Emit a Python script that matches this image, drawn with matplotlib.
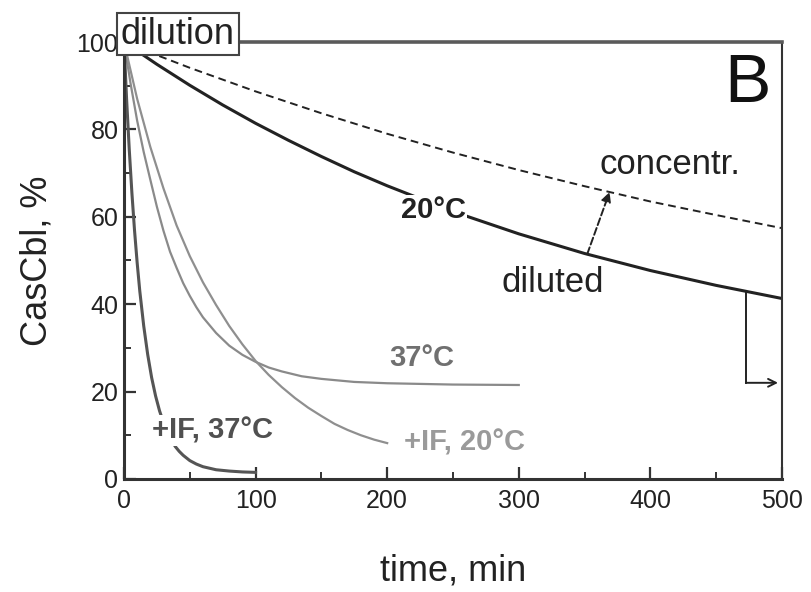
import numpy as np
import matplotlib
matplotlib.use("Agg")
import matplotlib.pyplot as plt

plt.rcParams['font.family'] = ['Liberation Sans', 'DejaVu Sans']

# CasCbl decay curves (time in min, % remaining)
t_diluted = [0, 25, 50, 75, 100, 125, 150, 175, 200, 250, 300, 350, 400, 450, 500]
y_diluted = [100, 94.9, 90.1, 85.6, 81.4, 77.5, 73.8, 70.3, 67.1, 61.2, 56.1, 51.6, 47.7, 44.3, 41.3]

t_concentr = [0, 25, 50, 100, 150, 200, 250, 300, 350, 400, 450, 500]
y_concentr = [100, 97.0, 94.1, 88.7, 83.7, 79.0, 74.7, 70.7, 67.0, 63.5, 60.4, 57.4]

t_37 = [0, 5, 10, 15, 20, 25, 30, 35, 40, 45, 50, 55, 60, 70, 80, 90, 100,
        110, 120, 135, 150, 175, 200, 250, 300]
y_37 = [100, 90.5, 82.0, 74.8, 68.5, 62.3, 56.8, 52.0, 48.3, 44.8, 41.9, 39.3, 37.0,
        33.4, 30.5, 28.4, 26.8, 25.5, 24.6, 23.5, 22.9, 22.2, 21.9, 21.6, 21.5]

t_if20 = [0, 10, 20, 30, 40, 50, 60, 70, 80, 90, 100, 110, 120, 130, 140, 150,
          160, 170, 180, 190, 200]
y_if20 = [100, 87.0, 76.0, 66.5, 58.0, 51.0, 45.0, 39.8, 35.0, 30.8, 27.0, 23.8,
          21.0, 18.5, 16.3, 14.4, 12.6, 11.2, 10.0, 9.0, 8.2]

t_if37 = [0, 2, 4, 6, 8, 10, 12, 15, 18, 21, 24, 27, 30, 33, 36, 39, 42, 45, 50,
          55, 60, 70, 80, 90, 100]
y_if37 = [100, 86.8, 75.4, 65.5, 56.9, 49.5, 43.0, 35.0, 28.5, 23.2, 19.0, 15.6,
          12.9, 10.7, 8.9, 7.4, 6.3, 5.4, 4.2, 3.4, 2.8, 2.1, 1.8, 1.6, 1.5]

plateau = 20          # level the diluted sample tends to
t_shift = 352         # where the dilution arrow starts
t_bracket = 472.6     # where the plateau bracket starts

fig = plt.figure(figsize=(8.12, 5.92), dpi=100)
ax = fig.add_axes([0.1527, 0.191, 0.8103, 0.738])

ax.plot(t_concentr, y_concentr, color='#222222', lw=1.4, ls=(0, (4, 2.5)))
ax.plot(t_diluted, y_diluted, color='#222222', lw=2.2)
ax.plot(t_37, y_37, color='#8a8a8a', lw=1.6)
ax.plot(t_if20, y_if20, color='#8f8f8f', lw=1.6)
ax.plot(t_if37, y_if37, color='#555555', lw=2.2)

ax.set_xlim(0, 500)
ax.set_ylim(0, 100)
ax.set_xticks(np.arange(0, 501, 100))
ax.set_xticks(np.arange(0, 501, 50), minor=True)
ax.set_yticks(np.arange(0, 101, 20))
ax.set_yticks(np.arange(0, 101, 10), minor=True)
ax.tick_params(which='major', direction='in', length=8.5, width=1.6, color='#333333',
               labelsize=18, labelcolor='#222222', pad=7)
ax.tick_params(which='minor', direction='in', length=5, width=1.4, color='#333333')
ax.tick_params(axis='y', pad=4)

for side in ['left', 'bottom']:
    ax.spines[side].set_linewidth(2.2)
    ax.spines[side].set_color('#333333')
ax.spines['right'].set_linewidth(1.5)
ax.spines['right'].set_color('#333333')
ax.spines['top'].set_linewidth(2.6)
ax.spines['top'].set_color('#5a5a5a')

ax.set_xlabel('time, min', fontsize=26, color='#222222')
ax.xaxis.set_label_coords(0.5, -0.17)
ax.set_ylabel('CasCbl, %', fontsize=26, color='#222222')
ax.yaxis.set_label_coords(-0.105, 0.5)

# curve labels
white = dict(facecolor='white', edgecolor='none', pad=1.0)
ax.text(67.6, 11, '+IF, 37°C', fontsize=21, fontweight='bold', color='#505050',
        ha='center', va='center', bbox=white)
ax.text(226, 27.7, '37°C', fontsize=21, fontweight='bold', color='#707070',
        ha='center', va='center')
ax.text(259, 8.3, '+IF, 20°C', fontsize=21, fontweight='bold', color='#9a9a9a',
        ha='center', va='center')
ax.text(235, 61.5, '20°C', fontsize=21, fontweight='bold', color='#222222',
        ha='center', va='center', bbox=white)
ax.text(326, 45, 'diluted', fontsize=25, color='#222222', ha='center', va='center')
ax.text(415, 72, 'concentr.', fontsize=25, color='#222222', ha='center', va='center')
ax.text(474, 90.5, 'B', fontsize=50, color='#111111', ha='center', va='center')
ax.text(41, 101.8, 'dilution', fontsize=26, color='#222222', ha='center', va='center',
        clip_on=False, zorder=5,
        bbox=dict(facecolor='white', edgecolor='#444444', lw=1.5, pad=2.5))

# dilution shift arrow from diluted to concentrated curve
y_from = np.interp(t_shift, t_diluted, y_diluted)
y_to = np.interp(t_shift + 17, t_concentr, y_concentr)
ax.annotate('', xy=(t_shift + 17, y_to), xytext=(t_shift, y_from),
            arrowprops=dict(arrowstyle='-|>', color='#222222', lw=1.4, ls='--',
                            mutation_scale=14, shrinkA=0, shrinkB=0))

# bracket pointing to the plateau level
y_b = np.interp(t_bracket, t_diluted, y_diluted)
ax.plot([t_bracket, t_bracket], [y_b, plateau + 2], color='#222222', lw=1.4)
ax.annotate('', xy=(497, plateau + 2), xytext=(t_bracket, plateau + 2),
            arrowprops=dict(arrowstyle='->', color='#222222', lw=1.4,
                            mutation_scale=14, shrinkA=0, shrinkB=0))

fig.savefig('out.png', dpi=100)
